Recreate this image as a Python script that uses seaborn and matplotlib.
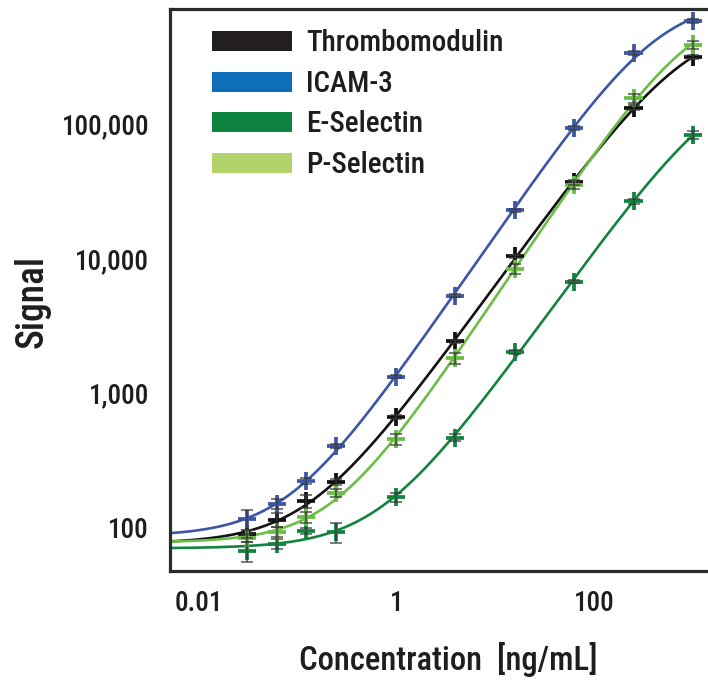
import os
import numpy as np
import pandas as pd
import matplotlib
matplotlib.use("Agg")
import matplotlib.pyplot as plt
import seaborn as sns
from matplotlib.patches import Patch
from matplotlib import ticker, font_manager

# ---------------- data ----------------
concentration = [0.0305, 0.061, 0.122, 0.244, 0.977, 3.906, 15.625, 62.5, 250, 1000]
series_names = ["Thrombomodulin", "ICAM-3", "E-Selectin", "P-Selectin"]

thrombomodulin = [90, 115, 157, 218, 668, 2430, 10400, 37000, 133000, 315000]
thrombomodulin_sd = [6, 14, 17, 11, 20, 70, 300, 1500, 6000, 12000]

icam3 = [116, 150, 223, 405, 1330, 5320, 22900, 94000, 339000, 584000]
icam3_sd = [20, 13, 11, 16, 40, 160, 700, 3000, 10000, 18000]

e_selectin = [67, 76, 95, 93, 168, 467, 2013, 6760, 26800, 83200]
e_selectin_sd = [11, 7, 5, 16, 12, 28, 70, 200, 1100, 5800]

p_selectin = [84, 93, 120, 182, 456, 1815, 8410, 35200, 156000, 391000]
p_selectin_sd = [6, 8, 11, 13, 45, 160, 750, 2100, 13000, 27000]

curve_colors = ["#111111", "#3a56a5", "#12843f", "#6cbd45"]
legend_colors = ["#231f20", "#0e6fb8", "#0f8441", "#b2d36b"]

x_tick_values = [0.01, 0.1, 1, 10, 100, 1000]
x_tick_labels = ["0.01", "", "1", "", "100", ""]
y_tick_values = [100, 1000, 10000, 100000]

values = [thrombomodulin, icam3, e_selectin, p_selectin]
errors = [thrombomodulin_sd, icam3_sd, e_selectin_sd, p_selectin_sd]

# ---------------- 4PL fit (least squares in log space) ----------------
def four_pl(x, p):
    a, d, c, b = 10 ** p[0], 10 ** p[1], 10 ** p[2], p[3]
    return d + (a - d) / (1.0 + (x / c) ** b)


def fit_four_pl(x, y):
    x = np.asarray(x, float)
    ly = np.log10(np.asarray(y, float))
    p = np.array([ly.min() - 0.05, ly.max() + 0.3, np.log10(np.median(x) * 20), 1.0])
    lam = 1e-2

    def res(pp):
        return np.log10(four_pl(x, pp)) - ly

    r = res(p)
    cost = np.sum(r ** 2)
    for _ in range(500):
        J = np.zeros((len(x), 4))
        for k in range(4):
            dp = np.zeros(4)
            dp[k] = 1e-6
            J[:, k] = (res(p + dp) - r) / 1e-6
        A = J.T @ J
        g = J.T @ r
        step = np.linalg.solve(A + lam * np.diag(np.diag(A) + 1e-12), -g)
        pn = p + step
        pn[3] = max(pn[3], 0.1)
        rn = res(pn)
        cn = np.sum(rn ** 2)
        if np.isfinite(cn) and cn < cost:
            p, r, cost = pn, rn, cn
            lam = max(lam / 3, 1e-9)
        else:
            lam *= 4
        if lam > 1e8:
            break
    return p


# ---------------- fonts ----------------
sns.set_style("white")
plt.rcParams["font.family"] = ["DejaVu Sans"]

files = [f.fname for f in font_manager.fontManager.ttflist]
prefs = ["NotoSans-ExtraCondensedMedium.", "NotoSans-ExtraCondensed.",
         "NotoSans-CondensedMedium.", "RobotoCondensed-Medium",
         "NotoSans-Condensed.", "RobotoCondensed-Regular",
         "LiberationSansNarrow-Regular", "DejaVuSansCondensed."]
chosen = None
for key in prefs:
    for fn in files:
        if os.path.basename(fn).startswith(key):
            chosen = fn
            break
    if chosen:
        break

if chosen:
    scale = 1.0
    def fp(size):
        return font_manager.FontProperties(fname=chosen, size=size)
else:
    scale = 0.8
    def fp(size):
        return font_manager.FontProperties(family=["Liberation Sans", "DejaVu Sans"], size=size)

text_color = "#1e1e1e"
tick_size = 19.5 * scale
legend_size = 21 * scale
xlabel_size = 23.5 * scale
ylabel_size = 27 * scale

fig = plt.figure(figsize=(7.08, 6.83), dpi=100)
ax = fig.add_axes([170 / 708, 1 - 571 / 683, 538 / 708, 562 / 683])
ax.set_xscale("log")
ax.set_yscale("log")
xmin, xmax = 0.00508, 1419
ax.set_xlim(xmin, xmax)
ax.set_ylim(47.7, 718000)

xs = np.logspace(np.log10(xmin), np.log10(max(concentration)), 400)
curve_frames = []
point_frames = []
for name, yv, ev in zip(series_names, values, errors):
    p = fit_four_pl(concentration, yv)
    curve_frames.append(pd.DataFrame({"x": xs, "y": four_pl(xs, p), "series": name}))
    point_frames.append(pd.DataFrame({"x": concentration, "y": yv, "sd": ev, "series": name}))
curves = pd.concat(curve_frames, ignore_index=True)
points = pd.concat(point_frames, ignore_index=True)
palette = dict(zip(series_names, curve_colors))

sns.lineplot(data=curves, x="x", y="y", hue="series", palette=palette, linewidth=1.9,
             legend=False, ax=ax, zorder=2, sort=False, estimator=None)
sns.scatterplot(data=points, x="x", y="y", hue="series", palette=palette, marker="+",
                s=170, linewidth=2.7, legend=False, ax=ax, zorder=3)
for name in series_names:
    sub = points[points.series == name]
    ax.errorbar(sub.x, sub.y, yerr=sub.sd, fmt="none", ecolor="#3a3a3a", elinewidth=1.1,
                capsize=4.5, capthick=1.1, zorder=4, alpha=0.85)

# axes styling
for side in ["left", "top", "bottom"]:
    ax.spines[side].set_visible(True)
    ax.spines[side].set_linewidth(2.3)
    ax.spines[side].set_color("#2b2b2b")
ax.spines["right"].set_visible(False)

ax.xaxis.set_major_locator(ticker.FixedLocator(x_tick_values))
ax.xaxis.set_major_formatter(ticker.FixedFormatter(x_tick_labels))
ax.xaxis.set_minor_locator(ticker.NullLocator())
ax.yaxis.set_major_locator(ticker.FixedLocator(y_tick_values))
ax.yaxis.set_major_formatter(ticker.FuncFormatter(lambda v, _: f"{v:,.0f}"))
ax.yaxis.set_minor_locator(ticker.LogLocator(base=10, subs=np.arange(2, 10), numticks=20))
ax.yaxis.set_minor_formatter(ticker.NullFormatter())

ax.tick_params(axis="x", which="major", direction="in", length=11, width=1.6,
               color="#1a1a1a", pad=14, labelcolor=text_color, top=False)
ax.tick_params(axis="y", which="major", direction="in", length=13, width=1.6,
               color="#1a1a1a", pad=15, labelcolor=text_color, right=False)
ax.tick_params(axis="y", which="minor", direction="in", length=9.5, width=1.5,
               color="#1a1a1a", right=False)
for lab in ax.get_xticklabels() + ax.get_yticklabels():
    lab.set_fontproperties(fp(tick_size))

ax.set_xlabel("Concentration  [ng/mL]", fontproperties=fp(xlabel_size), color=text_color)
ax.set_ylabel("Signal", fontproperties=fp(ylabel_size), color=text_color)
ax.xaxis.set_label_coords(0.517, -0.127)
ax.yaxis.set_label_coords(-0.222, 0.479)

handles = [Patch(facecolor=c, edgecolor="none") for c in legend_colors]
leg = ax.legend(handles, series_names, loc="upper left", bbox_to_anchor=(0.078, 0.964),
                frameon=False, prop=fp(legend_size), handlelength=2.74, handleheight=0.68,
                handletextpad=0.48, labelspacing=0.43, borderpad=0, borderaxespad=0)
for t in leg.get_texts():
    t.set_color(text_color)

fig.savefig("out.png", dpi=100)
